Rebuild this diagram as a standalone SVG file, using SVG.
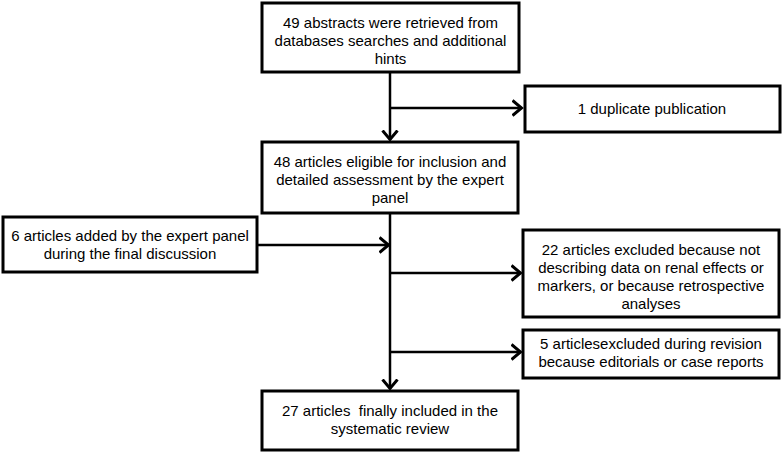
<svg xmlns="http://www.w3.org/2000/svg" width="782" height="452" viewBox="0 0 782 452">
<defs>
<style>
.box{fill:#fff;stroke:#000;stroke-width:3}
.t{font-family:"Liberation Sans",Arial,sans-serif;font-size:15px;fill:#000;text-anchor:middle}
.c{fill:none;stroke:#000;stroke-width:2.5}
</style>
<marker id="ah" viewBox="0 0 12 18" refX="10.5" refY="9" markerWidth="12" markerHeight="18" orient="auto" markerUnits="userSpaceOnUse">
<path d="M1,1.5 L10,9 L1,16.5" fill="none" stroke="#000" stroke-width="3"/>
</marker>
</defs>
<g id="connectors">
<path class="c" d="M390,72 V140" marker-end="url(#ah)"/>
<path class="c" d="M390,108 H522" marker-end="url(#ah)"/>
<path class="c" d="M390,213 V389" marker-end="url(#ah)"/>
<path class="c" d="M257,245 H389" marker-end="url(#ah)"/>
<path class="c" d="M390,273 H521" marker-end="url(#ah)"/>
<path class="c" d="M390,352 H521" marker-end="url(#ah)"/>
</g>
<g id="n1">
<rect class="box" x="262" y="3" width="257" height="69"/>
<text class="t" x="390.5" y="28">49 abstracts were retrieved from</text>
<text class="t" x="390.5" y="46">databases searches and additional</text>
<text class="t" x="390.5" y="64">hints</text>
</g>
<g id="n2">
<rect class="box" x="525" y="86" width="255" height="46"/>
<text class="t" x="652" y="114">1 duplicate publication</text>
</g>
<g id="n3">
<rect class="box" x="262" y="142" width="256" height="71"/>
<text class="t" x="390" y="167">48 articles eligible for inclusion and</text>
<text class="t" x="390" y="185">detailed assessment by the expert</text>
<text class="t" x="390" y="203">panel</text>
</g>
<g id="n4">
<rect class="box" x="3" y="217" width="254" height="55"/>
<text class="t" x="130" y="241">6 articles added by the expert panel</text>
<text class="t" x="130" y="259">during the final discussion</text>
</g>
<g id="n5">
<rect class="box" x="523" y="230" width="256" height="87"/>
<text class="t" x="651" y="255">22 articles excluded because not</text>
<text class="t" x="651" y="273">describing data on renal effects or</text>
<text class="t" x="651" y="291">markers, or because retrospective</text>
<text class="t" x="651" y="309">analyses</text>
</g>
<g id="n6">
<rect class="box" x="523" y="330" width="256" height="48"/>
<text class="t" x="651" y="349">5 articlesexcluded during revision</text>
<text class="t" x="651" y="367">because editorials or case reports</text>
</g>
<g id="n7">
<rect class="box" x="262" y="391" width="256" height="59"/>
<text class="t" x="390" y="416" xml:space="preserve">27 articles  finally included in the</text>
<text class="t" x="390" y="434">systematic review</text>
</g>
</svg>
